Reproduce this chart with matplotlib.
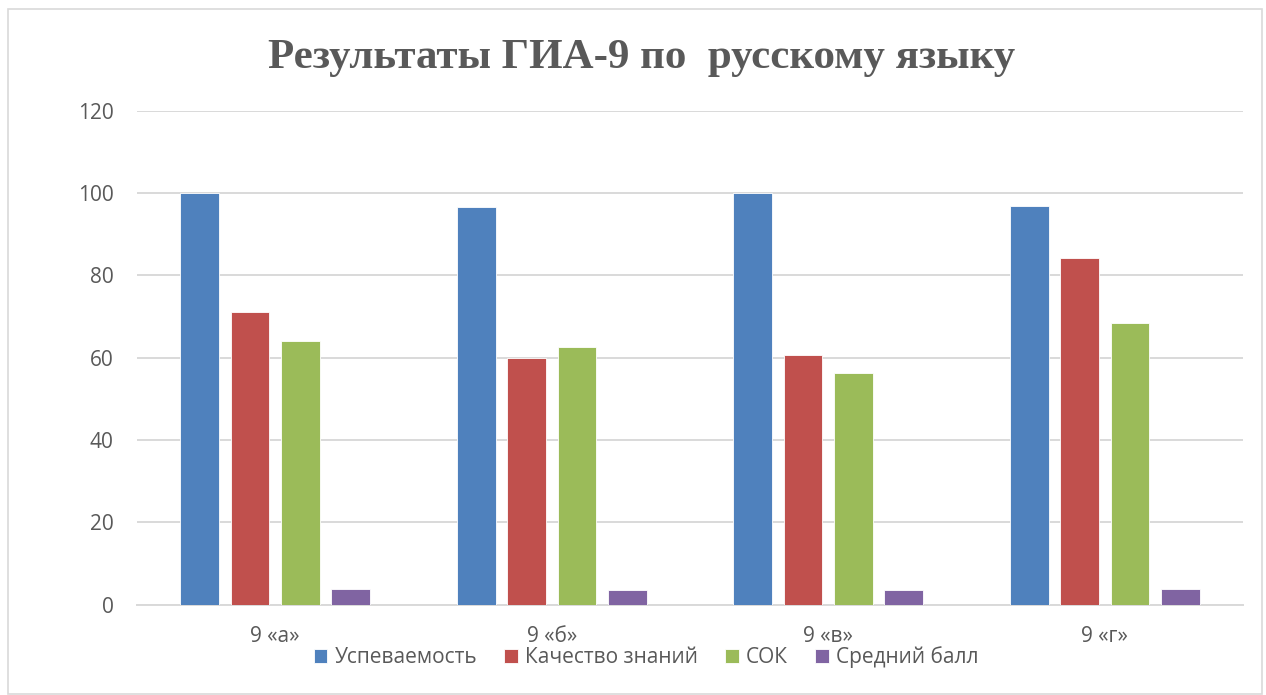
import matplotlib
matplotlib.use("Agg")
import matplotlib.pyplot as plt
import numpy as np
from matplotlib.patches import Rectangle

categories = ["9 «а»", "9 «б»", "9 «в»", "9 «г»"]
series_names = ["Успеваемость", "Качество знаний", "СОК", "Средний балл"]
uspev = [100, 96.6, 100, 96.8]
kachestvo = [71, 60, 60.6, 84.3]
sok = [64, 62.5, 56.4, 68.4]
sred_ball = [3.8, 3.6, 3.5, 3.8]
colors = ["#4F81BD", "#C0504D", "#9BBB59", "#8064A2"]
yticks = [0, 20, 40, 60, 80, 100, 120]

plt.rcParams['font.family'] = ['Open Sans', 'DejaVu Sans']

fig = plt.figure(figsize=(12.66, 6.95), dpi=100)
ax = fig.add_axes([137/1266, 1-604.7/695, (1243-137)/1266, (604.7-110.7)/695])

x = np.arange(len(categories))
step = 0.1826
width = 0.141
all_vals = [uspev, kachestvo, sok, sred_ball]
handles = []
for i, (vals, c, name) in enumerate(zip(all_vals, colors, series_names)):
    b = ax.bar(x + (i - 1.5) * step, vals, width, color=c, label=name,
               edgecolor='white', linewidth=0.6, zorder=3)
    handles.append(b)

ax.set_xlim(-0.5, 3.5)
ax.set_ylim(0, 120)
ax.set_yticks(yticks)
ax.set_xticks(x)
ax.set_xticklabels(categories)
ax.tick_params(axis='both', length=0, labelsize=15, colors='#595959')
ax.tick_params(axis='x', pad=15)
ax.tick_params(axis='y', pad=17)
ax.grid(axis='y', color='#D9D9D9', linewidth=1.4, zorder=0)
for s in ['top', 'right', 'left']:
    ax.spines[s].set_visible(False)
ax.spines['bottom'].set_color('#D9D9D9')
ax.spines['bottom'].set_linewidth(1.4)

fig.text(0.507, 1-58/695, "Результаты ГИА-9 по  русскому языку",
         ha='center', va='center', fontsize=31, fontweight='bold',
         family=['Liberation Serif', 'DejaVu Serif'], color='#595959')

leg = fig.legend(handles=handles, labels=series_names, loc='center',
                 bbox_to_anchor=(646/1266, 1-657/695), ncol=4, frameon=False,
                 fontsize=15, handlelength=0.65, handleheight=0.65,
                 handletextpad=0.35, columnspacing=1.3, borderaxespad=0)
for t in leg.get_texts():
    t.set_color('#595959')

fig.patches.append(Rectangle((8/1266, 1/695), (1262-8)/1266, (685)/695,
                             transform=fig.transFigure, fill=False,
                             edgecolor='#D9D9D9', linewidth=1.2))

fig.savefig("out.png", dpi=100, facecolor='white')
